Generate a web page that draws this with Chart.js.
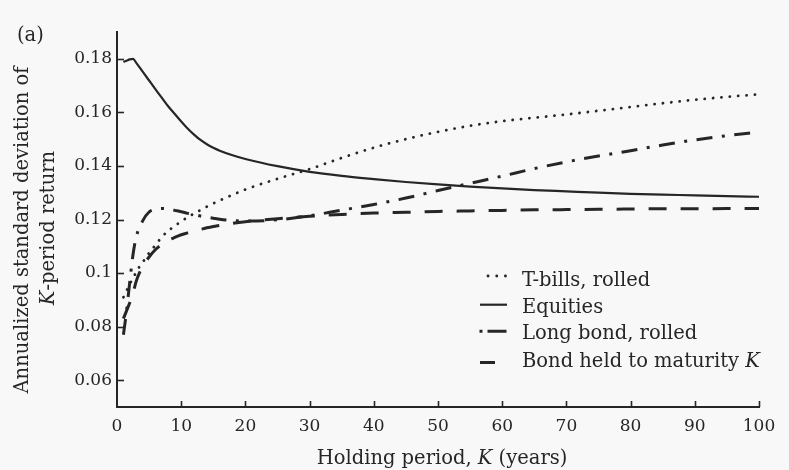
<!DOCTYPE html>
<html><head><meta charset="utf-8">
<script src="https://cdn.jsdelivr.net/npm/chart.js@4.4.1/dist/chart.umd.min.js"></script>
<style>html,body{margin:0;padding:0;background:#f8f8f8;overflow:hidden}canvas{display:block}</style>
</head><body>
<canvas id="c" width="789" height="470"></canvas>
<script>
// ---- data ----
const holdingPeriods = [1,1.5,2,2.5,3,4,5,6,7,8,9,10,11,12,13,14,15,16,18,20,25,30,35,40,45,50,55,60,65,70,75,80,85,90,95,100];
const tBillsRolled = [0.091,0.0935,0.096,0.098,0.1005,0.104,0.1075,0.1105,0.1135,0.1158,0.1176,0.1193,0.1208,0.1222,0.1235,0.1248,0.1260,0.1271,0.1292,0.1312,0.1352,0.1388,0.1430,0.1468,0.1500,0.1527,0.1550,0.1567,0.1580,0.1592,0.1606,0.1620,0.1634,0.1647,0.1658,0.1667];
const equities = [0.1788,0.1793,0.1798,0.1800,0.1785,0.1752,0.1719,0.1686,0.1654,0.1622,0.1594,0.1566,0.1540,0.1517,0.1497,0.1481,0.1468,0.1457,0.1440,0.1426,0.1399,0.1378,0.1363,0.1351,0.1340,0.1331,0.1323,0.1316,0.1310,0.1305,0.1300,0.1296,0.1293,0.1290,0.1287,0.1285];
const longBondRolled = [0.077,0.086,0.097,0.107,0.1135,0.1195,0.1228,0.1238,0.1241,0.1239,0.1234,0.1229,0.1223,0.1218,0.1213,0.1209,0.1205,0.1201,0.1196,0.1194,0.1199,0.1214,0.1235,0.1256,0.1280,0.1308,0.1335,0.1362,0.1390,0.1415,0.1437,0.1457,0.1478,0.1497,0.1513,0.1527];
const bondHeldToMaturity = [0.083,0.086,0.089,0.0925,0.097,0.1025,0.106,0.1088,0.1107,0.1122,0.1133,0.1143,0.1150,0.1157,0.1163,0.1169,0.1174,0.1178,0.1186,0.1192,0.1203,0.1212,0.1219,0.1224,0.1227,0.1230,0.1232,0.1234,0.1236,0.1237,0.1238,0.1239,0.1240,0.1240,0.1241,0.1241];
const seriesLabels = ['T-bills, rolled','Equities','Long bond, rolled','Bond held to maturity K'];
const xTickValues = [0,10,20,30,40,50,60,70,80,90,100];
const yTickValues = [0.06,0.08,0.1,0.12,0.14,0.16,0.18];
const yTickLabels = ['0.06','0.08','0.1','0.12','0.14','0.16','0.18'];
const xTitle = [['Holding period, ',false],['K',true],[' (years)',false]];
const yTitle1 = [['Annualized standard deviation of',false]];
const yTitle2 = [['K',true],['-period return',false]];
const panelLabel = '(a)';

// ---- styles ----
const FONT = "'DejaVu Serif', serif";
const INK = '#262626';
const BG = '#f8f8f8';

function pts(arr){ return holdingPeriods.map((k,i)=>({x:k,y:arr[i]})); }

const datasets = [
  {label:seriesLabels[0], data:pts(tBillsRolled), borderColor:INK, borderWidth:2.8, borderDash:[0.1,8.3], borderCapStyle:'round',
   legendDash:[0.1,8.6], legendFrom:488, legendTo:507, legendDy:-3, legendCap:'round'},
  {label:seriesLabels[1], data:pts(equities), borderColor:INK, borderWidth:2.2, borderDash:[],
   legendDash:[], legendFrom:480, legendTo:507, legendDy:-1, legendCap:'butt'},
  {label:seriesLabels[2], data:pts(longBondRolled), borderColor:INK, borderWidth:3, borderDash:[16,9.5,3,9.5],
   legendDash:[3,5,19,100], legendFrom:479.5, legendTo:507, legendDy:-1, legendCap:'butt'},
  {label:seriesLabels[3], data:pts(bondHeldToMaturity), borderColor:INK, borderWidth:3, borderDash:[18,14],
   legendDash:[], legendFrom:480, legendTo:495, legendDy:3, legendCap:'butt'}
].map(d=>Object.assign({pointRadius:0, fill:false, cubicInterpolationMode:'monotone', tension:0.4}, d));

function drawSegs(ctx, segs, size, x, y, align){
  let total = 0;
  const widths = segs.map(([t,it])=>{ ctx.font = (it?'italic ':'') + size + 'px ' + FONT; const w = ctx.measureText(t).width; total += w; return w; });
  let cx = align==='center' ? x - total/2 : x;
  ctx.textAlign = 'left';
  segs.forEach(([t,it],i)=>{ ctx.font = (it?'italic ':'') + size + 'px ' + FONT; ctx.fillText(t, cx, y); cx += widths[i]; });
}

const decor = {
  id:'decor',
  beforeDraw(chart){
    const ctx = chart.ctx; ctx.save(); ctx.fillStyle = BG; ctx.fillRect(0,0,chart.width,chart.height); ctx.restore();
  },
  afterDraw(chart){
    const ctx = chart.ctx, ca = chart.chartArea, xs = chart.scales.x, ys = chart.scales.y;
    ctx.save();
    // inward ticks
    ctx.strokeStyle = INK; ctx.lineWidth = 1.6; ctx.setLineDash([]);
    ys.ticks.forEach(t=>{ const y = Math.round(ys.getPixelForValue(t.value))+0.5; ctx.beginPath(); ctx.moveTo(ca.left, y); ctx.lineTo(ca.left+7, y); ctx.stroke(); });
    xs.ticks.forEach(t=>{ if (t.value===0) return; const x = Math.round(xs.getPixelForValue(t.value))+0.5; ctx.beginPath(); ctx.moveTo(x, ca.bottom); ctx.lineTo(x, ca.bottom-6); ctx.stroke(); });
    // titles
    ctx.fillStyle = INK; ctx.textBaseline = 'alphabetic';
    drawSegs(ctx, [[panelLabel,false]], 19.5, 17, 41, 'left');
    drawSegs(ctx, xTitle, 19.5, (ca.left+ca.right)/2 + 4, 464, 'center');
    ctx.save(); ctx.translate(27.5, 230); ctx.rotate(-Math.PI/2); drawSegs(ctx, yTitle1, 19.5, 0, 0, 'center'); ctx.restore();
    ctx.save(); ctx.translate(54, 228); ctx.rotate(-Math.PI/2); drawSegs(ctx, yTitle2, 19.5, 0, 0, 'center'); ctx.restore();
    // legend
    const baselines = [286, 312.7, 339.3, 366.5];
    chart.data.datasets.forEach((d,i)=>{
      const b = baselines[i];
      const symY = b - 7 + d.legendDy;
      ctx.strokeStyle = d.borderColor; ctx.lineWidth = d.borderWidth; ctx.lineCap = d.legendCap; ctx.setLineDash(d.legendDash);
      ctx.beginPath(); ctx.moveTo(d.legendFrom, symY); ctx.lineTo(d.legendTo, symY); ctx.stroke();
      ctx.setLineDash([]); ctx.lineCap = 'butt';
      ctx.fillStyle = INK;
      const lab = d.label;
      if (lab.endsWith(' K')) drawSegs(ctx, [[lab.slice(0,-1),false],['K',true]], 19.5, 522, b, 'left');
      else drawSegs(ctx, [[lab,false]], 19.5, 522, b, 'left');
    });
    ctx.restore();
  }
};

new Chart(document.getElementById('c'), {
  type:'line',
  data:{datasets},
  plugins:[decor],
  options:{
    responsive:false, animation:false, devicePixelRatio:1,
    layout:{padding:{top:32,right:30,left:0,bottom:0}},
    plugins:{legend:{display:false}, tooltip:{enabled:false}},
    scales:{
      x:{type:'linear', min:0, max:100,
        afterFit(s){ s.height = 63; },
        afterBuildTicks(s){ s.ticks = xTickValues.map(v=>({value:v})); },
        grid:{display:true, drawOnChartArea:false, drawTicks:false},
        border:{display:true, color:INK, width:2},
        ticks:{color:INK, padding:9, maxRotation:0, autoSkip:false, font:{family:FONT, size:17}, callback:(v)=>String(v)}
      },
      y:{type:'linear', min:0.05, max:0.19,
        afterFit(s){ s.width = 117; },
        afterBuildTicks(s){ s.ticks = yTickValues.map(v=>({value:v})); },
        grid:{display:true, drawOnChartArea:false, drawTicks:false},
        border:{display:true, color:INK, width:2},
        ticks:{color:INK, padding:5, autoSkip:false, font:{family:FONT, size:17}, callback:(v,i)=>yTickLabels[i]}
      }
    }
  }
});
</script>
</body></html>
